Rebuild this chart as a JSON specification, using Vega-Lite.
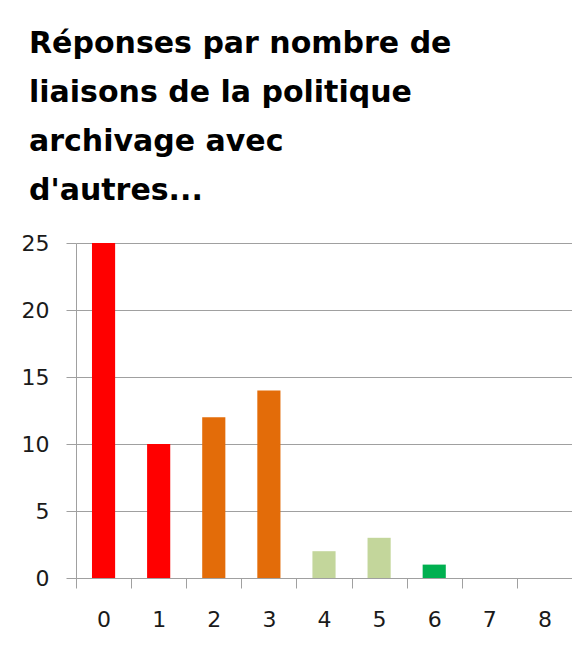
{
  "$schema": "https://vega.github.io/schema/vega-lite/v6.json",
  "width": 496,
  "height": 335,
  "autosize": {"type": "none"},
  "padding": {"left": 76, "top": 243, "right": 0, "bottom": 72},
  "background": "white",
  "title": {
    "text": ["Réponses par nombre de", "liaisons de la politique", "archivage avec", "d'autres..."],
    "anchor": "start",
    "frame": "group",
    "dx": -47,
    "offset": 26,
    "font": "DejaVu Sans",
    "fontWeight": "bold",
    "fontSize": 30,
    "lineHeight": 49,
    "color": "#000000"
  },
  "data": {
    "values": [
      {"liaisons": 0, "reponses": 25, "groupe": "0-1"},
      {"liaisons": 1, "reponses": 10, "groupe": "0-1"},
      {"liaisons": 2, "reponses": 12, "groupe": "2-3"},
      {"liaisons": 3, "reponses": 14, "groupe": "2-3"},
      {"liaisons": 4, "reponses": 2, "groupe": "4-5"},
      {"liaisons": 5, "reponses": 3, "groupe": "4-5"},
      {"liaisons": 6, "reponses": 1, "groupe": "6+"},
      {"liaisons": 7, "reponses": 0, "groupe": "6+"},
      {"liaisons": 8, "reponses": 0, "groupe": "6+"}
    ]
  },
  "mark": {"type": "bar", "width": {"band": 0.42}},
  "encoding": {
    "x": {
      "field": "liaisons",
      "type": "ordinal",
      "scale": {"paddingInner": 0, "paddingOuter": 0},
      "axis": {
        "title": null,
        "labelAngle": 0,
        "tickBand": "extent",
        "tickSize": 10,
        "tickColor": "#A0A0A0",
        "domainColor": "#A0A0A0",
        "labelFont": "DejaVu Sans",
        "labelFontSize": 22,
        "labelColor": "#1A1A1A",
        "labelPadding": 21,
        "grid": false
      }
    },
    "y": {
      "field": "reponses",
      "type": "quantitative",
      "scale": {"domain": [0, 25]},
      "axis": {
        "title": null,
        "values": [0, 5, 10, 15, 20, 25],
        "grid": true,
        "gridColor": "#A0A0A0",
        "tickSize": 10,
        "tickColor": "#A0A0A0",
        "domainColor": "#A0A0A0",
        "labelFont": "DejaVu Sans",
        "labelFontSize": 22,
        "labelPadding": 17,
        "labelColor": "#1A1A1A"
      }
    },
    "color": {
      "field": "groupe",
      "type": "nominal",
      "scale": {"domain": ["0-1", "2-3", "4-5", "6+"], "range": ["#FF0000", "#E36C09", "#C3D69B", "#00B050"]},
      "legend": null
    }
  },
  "config": {"view": {"stroke": null}}
}
